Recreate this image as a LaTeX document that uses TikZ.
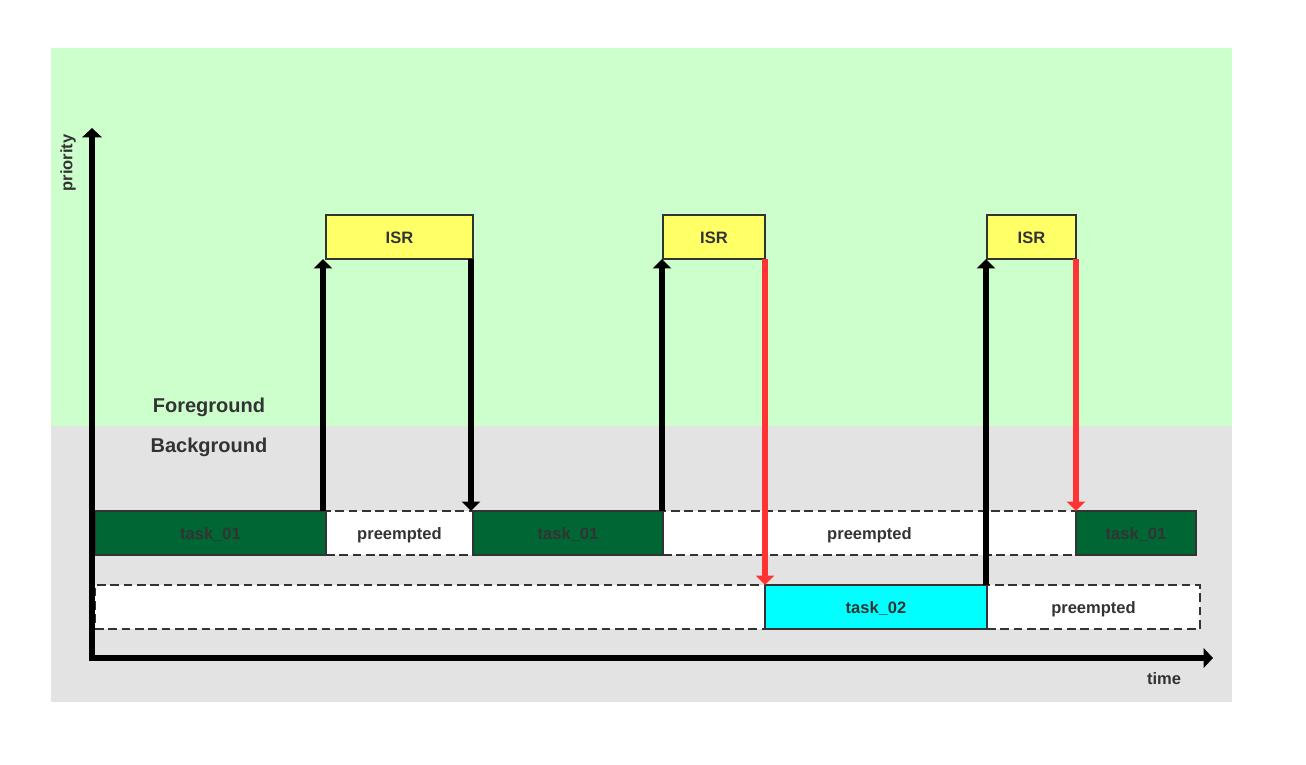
\documentclass[tikz,border=0pt]{standalone}
\usepackage{fontspec}
\setmainfont{Liberation Sans}
\usetikzlibrary{arrows.meta,fit,calc}
\definecolor{fgcol}{HTML}{CCFFCC}
\definecolor{bgcol}{HTML}{E3E3E3}
\definecolor{taskgreen}{HTML}{006633}
\definecolor{isryellow}{HTML}{FFFF66}
\definecolor{redarr}{HTML}{FF3333}
\definecolor{txtcol}{HTML}{333333}
\definecolor{cyancol}{HTML}{00FFFF}
\tikzset{
  lbl/.style={text=txtcol, font=\fontsize{12.4pt}{14pt}\selectfont\bfseries, inner sep=0pt},
  boxtext/.style={lbl, anchor=base, yshift=-4.6pt},
  bigl/.style={text=txtcol, font=\fontsize{15pt}{17pt}\selectfont\bfseries, inner sep=0pt},
  anybox/.style={lbl, draw=txtcol, line width=1.5pt, inner sep=0pt, outer sep=0pt},
  isrbox/.style={anybox, fill=isryellow},
  taskbox/.style={anybox, fill=taskgreen},
  cyanbox/.style={anybox, fill=cyancol},
  prebox/.style={anybox, fill=white, dash pattern=on 6.5pt off 3.5pt},
  arrblack/.style={line width=4.8pt, draw=black, -{Triangle[width=13.5pt,length=7pt]}},
  arrred/.style={line width=4.8pt, draw=redarr, -{Triangle[width=13.5pt,length=7pt,fill=redarr]}},
  axisline/.style={line width=4.8pt, draw=black, -{Triangle[width=14.5pt,length=7pt]}},
}
\begin{document}
\begin{tikzpicture}[x=0.75pt,y=-0.75pt]
\useasboundingbox (0,0) rectangle (1306,764);
\fill[white] (0,0) rectangle (1306,764);
% regions
\fill[fgcol] (51,48) rectangle (1232,426);
\fill[bgcol] (51,426) rectangle (1232,702);
\node[bigl] (fgl) at (209,407.5) {Foreground};
\node[bigl] (bgl) at (209,447.5) {Background};
% row 1 (dashed first)
\node[prebox, fit={(326,511) (473,555)}] (pre1) {};
\node[boxtext] at (pre1.center) {preempted};
\node[prebox, fit={(663,511) (1076,555)}] (pre2) {};
\node[boxtext] at (pre2.center) {preempted};
\node[taskbox, fit={(95,511) (326,555)}] (t1a) {};
\node[boxtext] at (t1a.center) {task\_01};
\node[taskbox, fit={(473,511) (663,555)}] (t1b) {};
\node[boxtext] at (t1b.center) {task\_01};
\node[taskbox, fit={(1076,511) (1196,555)}] (t1c) {};
\node[boxtext] at (t1c.center) {task\_01};
% row 2
\node[prebox, fit={(95,585) (765,629)}] (idle) {};
\node[prebox, fit={(987,585) (1200,629)}] (pre3) {};
\node[boxtext] at (pre3.center) {preempted};
\node[cyanbox, fit={(765,585) (987,629)}] (t2) {};
\node[boxtext] at (t2.center) {task\_02};
% ISR boxes
\node[isrbox, fit={(326,215) (473,259)}] (isr1) {};
\node[boxtext] at (isr1.center) {ISR};
\node[isrbox, fit={(663,215) (765,259)}] (isr2) {};
\node[boxtext] at (isr2.center) {ISR};
\node[isrbox, fit={(987,215) (1076,259)}] (isr3) {};
\node[boxtext] at (isr3.center) {ISR};
% arrows
\draw[arrblack] ([xshift=-2.25pt]t1a.north east) -- ([xshift=-2.25pt]isr1.south west);
\draw[arrblack] ([xshift=-1.5pt]isr1.south east) -- ([xshift=-1.5pt]pre1.north east);
\draw[arrblack] ([xshift=-0.75pt]t1b.north east) -- ([xshift=-0.75pt]isr2.south west);
\draw[arrred] (isr2.south east) -- (t2.north west);
\draw[arrblack] ([xshift=-0.75pt]t2.north east) -- ([xshift=-0.75pt]isr3.south west);
\draw[arrred] (isr3.south east) -- (t1c.north west);
% axes
\coordinate (origin) at (92,661);
\coordinate (ytop) at (92,128);
\coordinate (xorig) at (89,658);
\coordinate (xend) at (1213,658);
\draw[axisline] (origin) -- (ytop);
\draw[axisline] (xorig) -- (xend);
\node[lbl, rotate=90] (prio) at (68,163) {priority};
\node[lbl] (time) at (1164,679) {time};
\end{tikzpicture}
\end{document}
